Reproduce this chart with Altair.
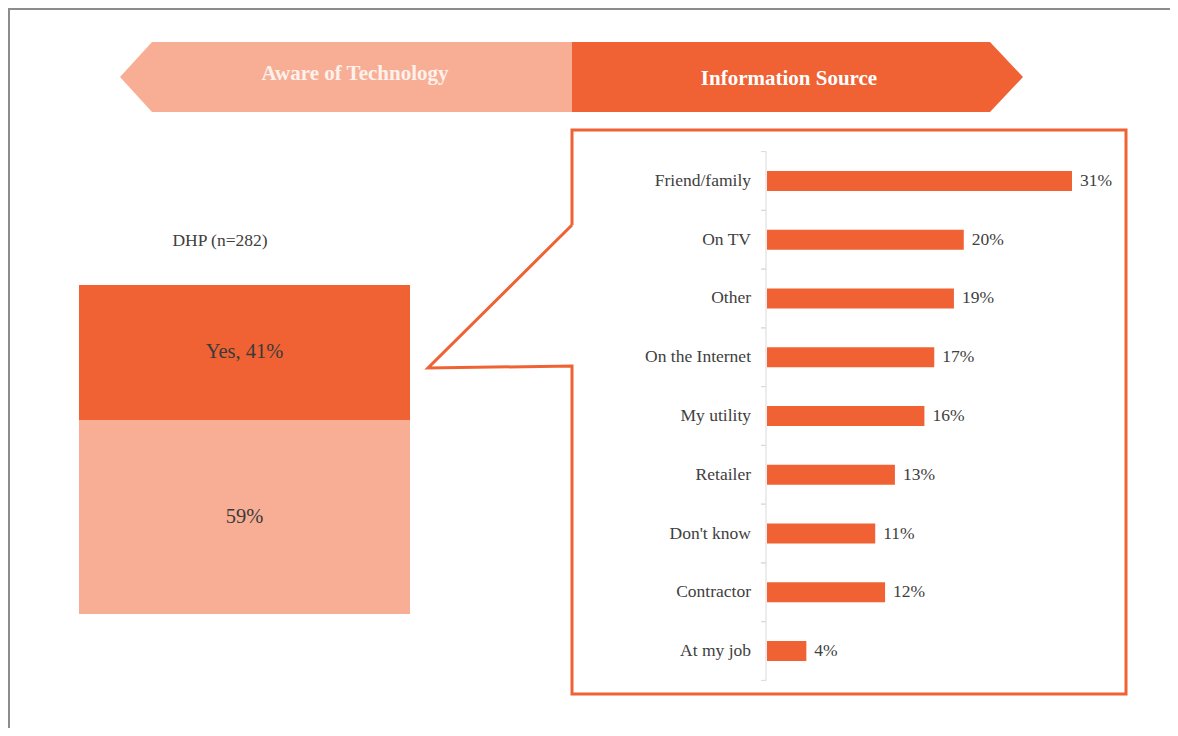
import altair as alt
import pandas as pd
import numpy as np

# ---------------- data ----------------
source_cats = ["Friend/family", "On TV", "Other", "On the Internet", "My utility",
               "Retailer", "Don't know", "Contractor", "At my job"]
source_vals = [31, 20, 19, 17, 16, 13, 11, 12, 4]

aware_cats = ["Yes", "No"]
aware_vals = [41, 59]
group_name = ["DHP"]
group_label = "DHP (n=282)"

banner_left = "Aware of Technology"
banner_right = "Information Source"

# ---------------- style ----------------
W, H = 1162, 720
DARK = "#F06233"
LIGHT = "#F8AE95"
TEXT = "#404040"
AXIS = "#d9d9d9"
SERIF = "Liberation Serif"


def px_x():
    return alt.Scale(domain=[0, W], range=[0, W], nice=False, zero=False)


def px_y():
    return alt.Scale(domain=[0, H], range=[0, H], nice=False, zero=False)


# ---------------- decorations ----------------
frame = alt.Chart(alt.Data(values=[{}]))
top_rule = frame.mark_rule(color="#8c8c8c", strokeWidth=2).encode(
    x=alt.value(0), x2=alt.value(W), y=alt.value(1))
left_rule = frame.mark_rule(color="#8c8c8c", strokeWidth=2).encode(
    x=alt.value(1), y=alt.value(0), y2=alt.value(H))

left_banner_df = pd.DataFrame({"x": [112, 144, 564], "y": [69, 34, 34], "y2": [69, 104, 104]})
right_banner_df = pd.DataFrame({"x": [564, 982, 1015], "y": [34, 34, 69], "y2": [104, 104, 69]})


def banner(df, color):
    return alt.Chart(df).mark_area(color=color, orient="vertical", interpolate="linear").encode(
        x=alt.X("x:Q", scale=px_x(), axis=None),
        y=alt.Y("y:Q", scale=px_y(), axis=None),
        y2="y2:Q",
    )


left_banner = banner(left_banner_df, LIGHT)
right_banner = banner(right_banner_df, DARK)

left_banner_text = frame.mark_text(font=SERIF, fontSize=21, fontWeight="bold", color="#fdf1ec").encode(
    x=alt.value(347), y=alt.value(66), text=alt.value(banner_left))
right_banner_text = frame.mark_text(font=SERIF, fontSize=21, fontWeight="bold", color="white").encode(
    x=alt.value(781), y=alt.value(71), text=alt.value(banner_right))

callout_df = pd.DataFrame({
    "x": [564, 564, 1118, 1118, 564, 564, 420, 564],
    "y": [217, 122, 122, 686, 686, 358, 360, 217],
    "o": list(range(8)),
})
callout = alt.Chart(callout_df).mark_line(color=DARK, strokeWidth=3, strokeJoin="miter").encode(
    x=alt.X("x:Q", scale=px_x(), axis=None),
    y=alt.Y("y:Q", scale=px_y(), axis=None),
    order="o:Q",
)

# ---------------- left stacked column ----------------
aw = pd.DataFrame({"cat": aware_cats, "val": aware_vals, "grp": group_name * len(aware_cats)})
aw["end"] = aw["val"].cumsum()
aw["start"] = aw["end"] - aw["val"]
aw["mid"] = (aw["start"] + aw["end"]) / 2
aw["label"] = np.where(aw["cat"] == "Yes",
                       aw["cat"] + ", " + aw["val"].astype(str) + "%",
                       aw["val"].astype(str) + "%")

ax_scale = alt.Scale(domain=group_name, range=[71, 402], paddingInner=0, paddingOuter=0)
ay_scale = alt.Scale(domain=[0, 100], range=[277, 606], nice=False, zero=False)

aw_base = alt.Chart(aw)
aw_rect = aw_base.mark_bar().encode(
    x=alt.X("grp:N", scale=ax_scale, axis=None),
    y=alt.Y("start:Q", scale=ay_scale, axis=None),
    y2="end:Q",
    color=alt.Color("cat:N", scale=alt.Scale(domain=aware_cats, range=[DARK, LIGHT]), legend=None),
)
aw_text = aw_base.mark_text(font=SERIF, fontSize=20.5, color="#3a3a3a").encode(
    x=alt.X("grp:N", scale=ax_scale, axis=None),
    y=alt.Y("mid:Q", scale=ay_scale, axis=None),
    text="label:N",
)
aw_layer = alt.layer(aw_rect, aw_text)

group_text = frame.mark_text(font=SERIF, fontSize=17.5, color=TEXT).encode(
    x=alt.value(212), y=alt.value(233), text=alt.value(group_label))

# ---------------- right bar chart ----------------
src = pd.DataFrame({"cat": source_cats, "val": source_vals})
src["label"] = src["val"].astype(str) + "%"

AXIS_X = 758
Y_RANGE = [143.6, 672.4]
STEP = (Y_RANGE[1] - Y_RANGE[0]) / len(source_cats)
bx_scale = alt.Scale(domain=[0, 31], range=[759, 1064], nice=False, zero=True)
by_scale = alt.Scale(domain=source_cats, range=Y_RANGE, paddingInner=0.66, paddingOuter=0.33)

src_base = alt.Chart(src)
src_bars = src_base.mark_bar(color=DARK).encode(
    x=alt.X("val:Q", scale=bx_scale, axis=None),
    y=alt.Y("cat:N", scale=by_scale, sort=source_cats, axis=None),
)
src_vals = src_base.mark_text(align="left", dx=8, font=SERIF, fontSize=17.5, color=TEXT).encode(
    x=alt.X("val:Q", scale=bx_scale, axis=None),
    y=alt.Y("cat:N", scale=by_scale, sort=source_cats, axis=None),
    text="label:N",
)
src_labels = src_base.mark_text(align="right", font=SERIF, fontSize=17.5, color=TEXT).encode(
    x=alt.value(AXIS_X - 15),
    y=alt.Y("cat:N", scale=by_scale, sort=source_cats, axis=None),
    text="cat:N",
)
src_domain = frame.mark_rule(color=AXIS, strokeWidth=1).encode(
    x=alt.value(AXIS_X), y=alt.value(Y_RANGE[0]), y2=alt.value(Y_RANGE[1]))


def ticks(offset):
    return src_base.mark_rule(color=AXIS, strokeWidth=1, yOffset=offset).encode(
        x=alt.value(AXIS_X - 5), x2=alt.value(AXIS_X),
        y=alt.Y("cat:N", scale=by_scale, sort=source_cats, axis=None),
    )


src_layer = alt.layer(src_domain, ticks(-STEP / 2), ticks(STEP / 2), src_bars, src_vals, src_labels)

chart = alt.layer(
    top_rule, left_rule,
    left_banner, right_banner, left_banner_text, right_banner_text,
    callout,
    aw_layer, group_text,
    src_layer,
).resolve_scale(x="independent", y="independent", color="independent").properties(
    width=W, height=H, padding=0, autosize="none", background="white"
).configure_view(stroke=None)

chart.save("out.html", embed_options={"renderer": "svg", "actions": False})
